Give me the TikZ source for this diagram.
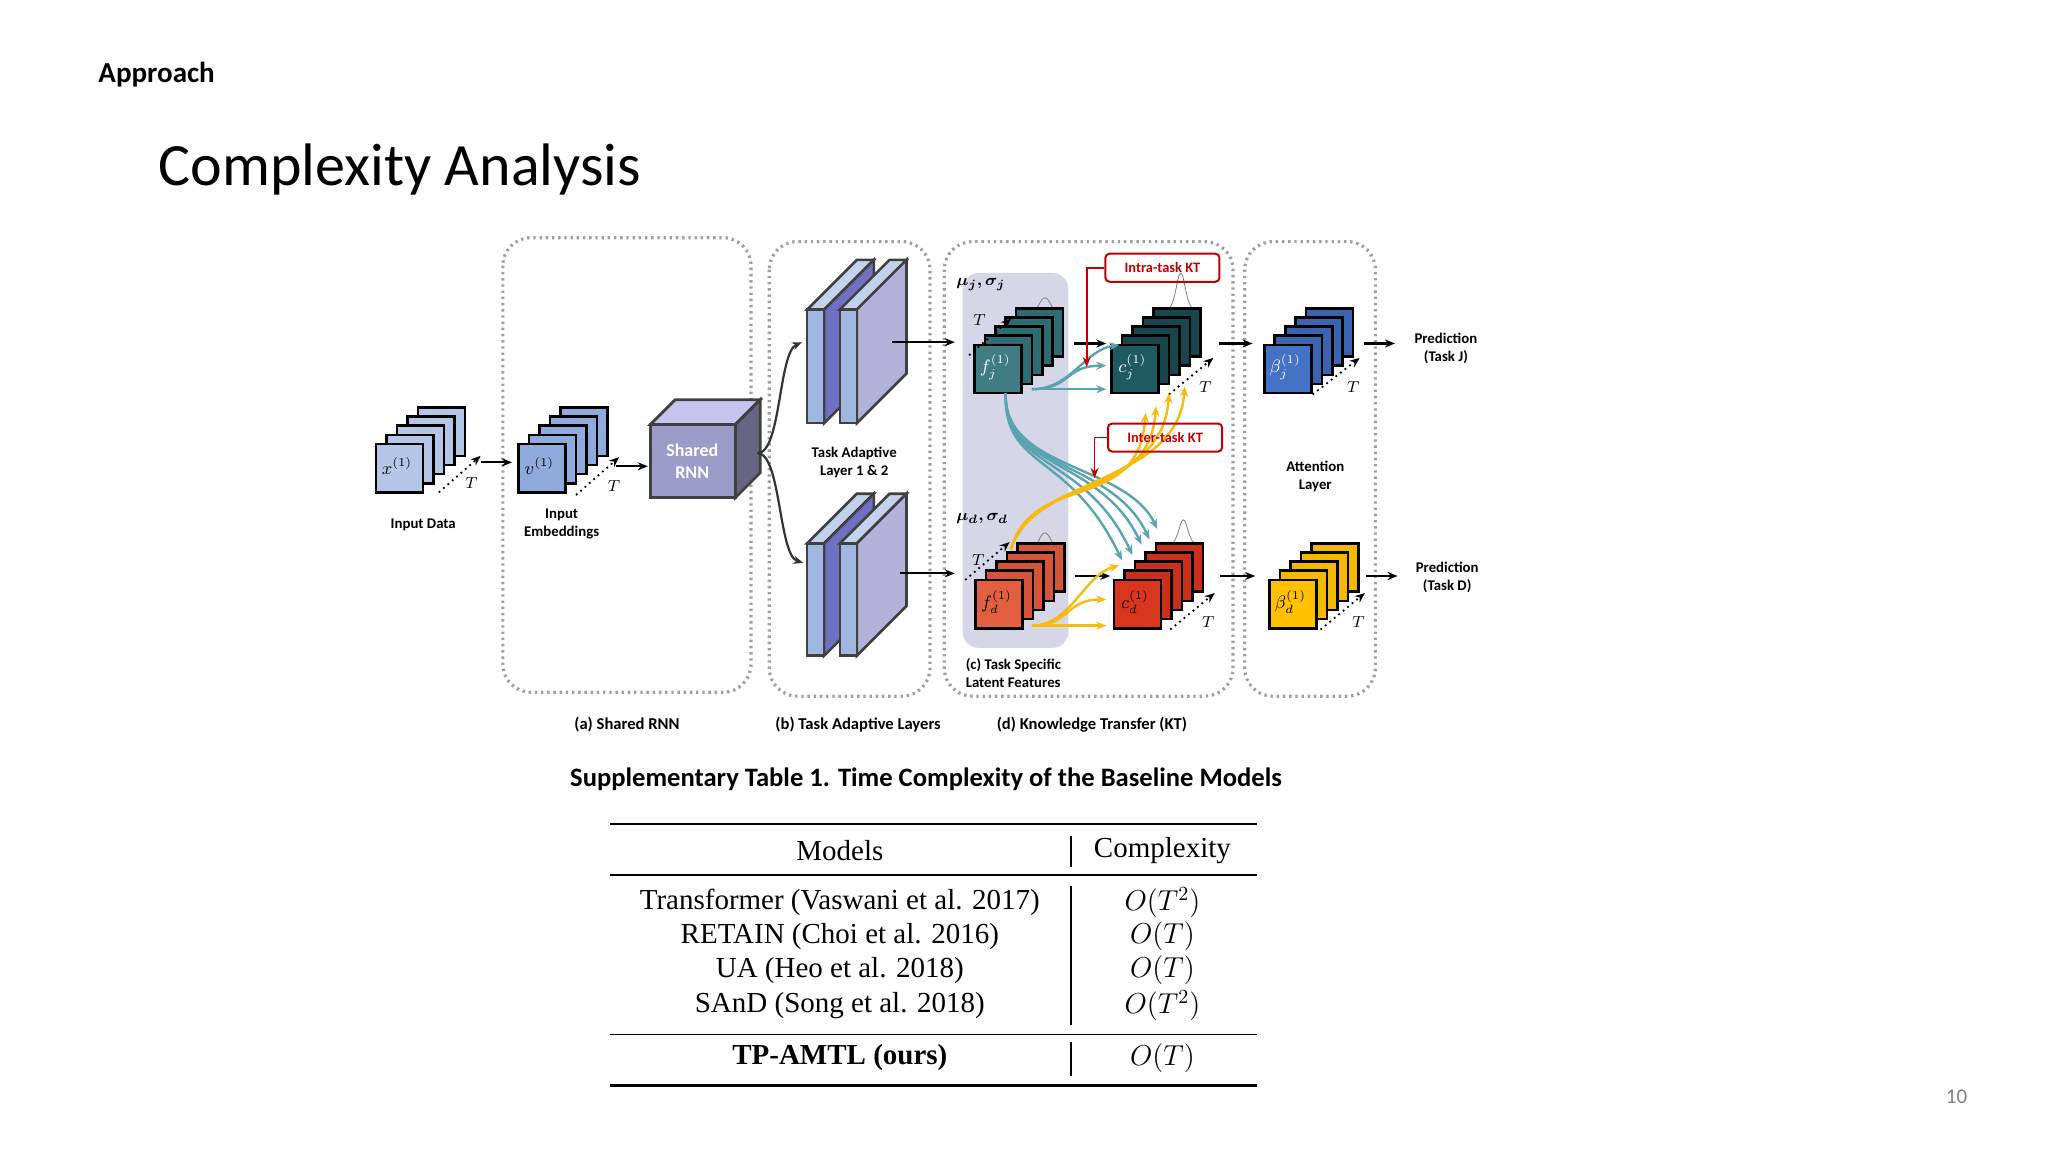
\documentclass[tikz,border=0pt]{standalone}
\usepackage{amsmath,bm}
\usepackage{fontspec}
\setmainfont{Carlito}
\newfontfamily\tabfont{Liberation Serif}
\usetikzlibrary{arrows.meta}
\definecolor{inA}{HTML}{B4C7E7}
\definecolor{inB}{HTML}{8FAADC}
\definecolor{tealA}{HTML}{3F7D83}
\definecolor{tealB}{HTML}{2F6C72}
\definecolor{tealC}{HTML}{1F5A60}
\definecolor{tealD}{HTML}{17474C}
\definecolor{oraA}{HTML}{E2603F}
\definecolor{oraB}{HTML}{D4553A}
\definecolor{redA}{HTML}{D9361E}
\definecolor{redB}{HTML}{C8301C}
\definecolor{bluA}{HTML}{4472C4}
\definecolor{bluB}{HTML}{3A63B0}
\definecolor{yelA}{HTML}{FFC000}
\definecolor{yelB}{HTML}{F5B800}
\definecolor{ktred}{HTML}{C00000}
\definecolor{lteal}{HTML}{5AA3B0}
\definecolor{lyel}{HTML}{F7BB10}
\newcommand\stk[5]{%
  \foreach \i in {4,3,2,1}{\draw[line width=1.3pt,fill=#3] (#1+8*\i,#2-7*\i) rectangle ++(36,37);}
  \draw[line width=1.3pt,fill=#4] (#1,#2) rectangle ++(36,37);
  \node[font=\fontsize{9}{10}\selectfont] at (#1+16,#2+17) {#5};}
\begin{document}
\begin{tikzpicture}[x=0.653pt,y=-0.653pt,
  dotbox/.style={draw=gray!75,line width=1.6pt,dash pattern=on 1.2pt off 1.9pt,rounded corners=14pt},
  lbl/.style={font=\bfseries\fontsize{7.4}{9}\selectfont,align=center},
  sec/.style={font=\bfseries\fontsize{8.3}{10}\selectfont},
  arr/.style={-{Stealth[length=5pt,width=4pt]},line width=1.1pt},
  tarr/.style={-{Stealth[length=5pt,width=4pt]},line width=0.9pt,dotted},
  ktbox/.style={draw=ktred,line width=1pt,rounded corners=2pt,text=ktred,font=\bfseries\fontsize{7.2}{8}\selectfont,minimum width=57pt,minimum height=14pt},
  tl/.style={-{Stealth[length=5pt,width=4pt]},line width=1.2pt,draw=lteal},
  yl/.style={-{Stealth[length=5pt,width=4pt]},line width=1.2pt,draw=lyel},
  bump/.style={draw=gray,line width=0.4pt}]
\useasboundingbox (0,0) rectangle (1568,882);
\node[anchor=west,font=\bfseries\fontsize{14.5}{16}\selectfont] (appr) at (70,57) {Approach};
\node[anchor=west,font=\fontsize{30}{34}\selectfont] (title) at (116,130) {Complexity Analysis};
% dotted boxes
\draw[dotbox] (385,182) rectangle (575,530);
\draw[dotbox] (589,185) rectangle (712,533);
\draw[dotbox] (723,185) rectangle (944,533);
\draw[dotbox] (953,185) rectangle (1053,533);
\node[sec] (la) at (480,555) {(a) Shared RNN};
\node[sec] (lb) at (657,555) {(b) Task Adaptive Layers};
\node[sec] (ld) at (836,555) {(d) Knowledge Transfer (KT)};
% light panel
\fill[blue!30!gray!25,rounded corners=8pt] (737,209) rectangle (818,496);
% input
\stk{288}{340}{inA}{inA}{$x^{(1)}$}
\node[lbl] (indata) at (324,402) {Input Data};
\draw[tarr] (336,377) -- (368,349);
\node[font=\fontsize{8}{9}\selectfont] at (361,370) {$T$};
\coordinate (x1) at (368,354); \coordinate (x2) at (392,354);
\draw[arr] (x1) -- (x2);
\stk{397}{340}{inB}{inB}{$v^{(1)}$}
\node[lbl] (inemb) at (430,401) {Input\\Embeddings};
\draw[tarr] (441,379) -- (474,350);
\node[font=\fontsize{8}{9}\selectfont] at (470,372) {$T$};
\coordinate (v1) at (472,357); \coordinate (v2) at (496,357);
\draw[arr] (v1) -- (v2);
% cube
\draw[line width=1.4pt,fill=gray!45!blue!30!white,draw=black!75] (498,325)--(517,306)--(582,306)--(563,325)--cycle;
\draw[line width=1.4pt,fill=black!45!blue!20!gray,draw=black!75] (563,325)--(582,306)--(582,362)--(563,381)--cycle;
\draw[line width=1.4pt,fill=gray!70!blue!60!white,draw=black!75] (498,325) rectangle (563,381);
\node[font=\bfseries\fontsize{9}{11}\selectfont,text=white,align=center] (rnn) at (530,353) {Shared\\RNN};
\coordinate (br) at (580,347);
\coordinate (bt) at (614,262); \coordinate (bb) at (615,431);
\draw[arr,black!80] (br) .. controls (598,347) and (596,270) .. (bt);
\draw[arr,black!80] (br) .. controls (598,347) and (596,425) .. (bb);
% slabs
\foreach \yy/\yb in {237/324,416/502}{
 \foreach \xx/\sc in {618/{blue!40!gray!80},643/{gray!65!blue!45!white}}{
  \draw[line width=1.3pt,draw=black!75,fill=inA!80!white] (\xx,\yy)--(\xx+38,\yy-38)--(\xx+51,\yy-38)--(\xx+13,\yy)--cycle;
  \draw[line width=1.3pt,draw=black!75,fill=\sc] (\xx+13,\yy)--(\xx+51,\yy-38)--(\xx+51,\yb-38)--(\xx+13,\yb)--cycle;
  \draw[line width=1.3pt,draw=black!75,fill=inB!85!white] (\xx,\yy) rectangle (\xx+13,\yb);
 }}
\node[lbl] (tal) at (654,354) {Task Adaptive\\Layer 1 \& 2};
\coordinate (s1) at (683,262); \coordinate (s2) at (731,262);
\coordinate (s3) at (689,439); \coordinate (s4) at (731,439);
\draw[arr] (s1) -- (s2); \draw[arr] (s3) -- (s4);
% task J
\node[font=\bfseries\fontsize{8.5}{9}\selectfont] (muj) at (751,218) {$\bm{\mu_j,\sigma_j}$};
\draw[bump] (787,240) .. controls (795,240) and (796,228) .. (800,228) .. controls (804,228) and (805,240) .. (813,240);
\stk{746}{264}{tealB}{tealA}{\color{white}$f_j^{(1)}$}
\draw[tarr] (742,272) -- (774,244);
\node[font=\fontsize{8}{9}\selectfont] at (750,245) {$T$};
\draw[bump] (893,237) .. controls (900,237) and (901,209) .. (904,209) .. controls (907,209) and (908,237) .. (915,237);
\stk{851}{264}{tealD}{tealC}{\color{white}$c_j^{(1)}$}
\draw[tarr] (895,302) -- (929,274);
\node[font=\fontsize{8}{9}\selectfont] at (923,296) {$T$};
\coordinate (fj1) at (822,263); \coordinate (cj1) at (847,263);
\draw[arr] (fj1) -- (cj1);
\coordinate (fjo) at (790,298);
\draw[tl] (fjo) -- (847,298);
\draw[tl] (fjo) .. controls (820,298) and (815,280) .. (847,280);
\draw[tl] (fjo) .. controls (820,298) and (830,268) .. (857,264);
\node[ktbox] (intra) at (890,205) {Intra-task KT};
\coordinate (intc) at (832,205); \coordinate (intd) at (832,281);
\draw[-{Stealth[length=5pt,width=4pt]},line width=0.9pt,ktred] (intra.west) -- (intc) -- (intd);
\coordinate (a1) at (933,263); \coordinate (a2) at (959,263);
\draw[arr] (a1) -- (a2);
\stk{968}{264}{bluB}{bluA}{\color{white}$\beta_j^{(1)}$}
\draw[tarr] (1005,302) -- (1041,274);
\node[font=\fontsize{8}{9}\selectfont] at (1036,296) {$T$};
\coordinate (p1) at (1044,263); \coordinate (p2) at (1068,263);
\draw[arr] (p1) -- (p2);
\node[lbl] (predj) at (1107,267) {Prediction\\(Task J)};
% task D
\node[font=\bfseries\fontsize{8.5}{9}\selectfont] (mud) at (752,397) {$\bm{\mu_d,\sigma_d}$};
\draw[bump] (788,420) .. controls (795,420) and (796,408) .. (800,408) .. controls (804,408) and (805,420) .. (813,420);
\stk{747}{444}{oraB}{oraA}{$f_d^{(1)}$}
\draw[tarr] (739,444) -- (773,415);
\node[font=\fontsize{8}{9}\selectfont] at (749,429) {$T$};
\draw[bump] (895,417) .. controls (902,417) and (903,398) .. (906,398) .. controls (909,398) and (910,417) .. (917,417);
\stk{853}{444}{redB}{redA}{$c_d^{(1)}$}
\draw[tarr] (896,482) -- (930,454);
\node[font=\fontsize{8}{9}\selectfont] at (925,476) {$T$};
\coordinate (fd1) at (823,441); \coordinate (cd1) at (850,441);
\draw[arr] (fd1) -- (cd1);
\coordinate (fdo) at (790,479);
\draw[yl] (fdo) -- (847,479);
\draw[yl] (fdo) .. controls (820,479) and (815,459) .. (847,459);
\draw[yl] (fdo) .. controls (820,479) and (830,440) .. (857,433);
% cross arrows
\coordinate (fjb) at (770,301);
\foreach \ex/\ey/\c in {859/429/0,867/425/8,874/417/16,880/413/24,886/405/32}{
  \draw[tl] (fjb) .. controls (768,360) and (\ex-40+\c*0.5,345+\c*0.3) .. (\ex,\ey);}
\coordinate (fdt) at (774,421);
\foreach \ex/\ey/\c in {877/316/0,885/311/8,895/301/16,907/296/24}{
  \draw[yl] (fdt) .. controls (790,360+\c*0.2) and (\ex-5,395-\c) .. (\ex,\ey);}
\node[ktbox] (inter) at (892,335) {Inter-task KT};
\coordinate (inc) at (838,335); \coordinate (ind) at (838,366);
\draw[-{Stealth[length=5pt,width=4pt]},line width=0.9pt,ktred] (inter.west) -- (inc) -- (ind);
\coordinate (a3) at (934,441); \coordinate (a4) at (961,441);
\draw[arr] (a3) -- (a4);
\stk{972}{444}{yelB}{yelA}{$\beta_d^{(1)}$}
\draw[tarr] (1011,482) -- (1045,454);
\node[font=\fontsize{8}{9}\selectfont] at (1040,476) {$T$};
\coordinate (p3) at (1046,441); \coordinate (p4) at (1070,441);
\draw[arr] (p3) -- (p4);
\node[lbl] (predd) at (1108,442) {Prediction\\(Task D)};
\node[lbl] (att) at (1007,365) {Attention\\Layer};
\node[lbl,align=left,anchor=west] (tsl) at (734,515) {(c) Task Specific\\Latent Features};
% table
\node[font=\bfseries\fontsize{13.3}{15}\selectfont] (cap) at (709,597) {Supplementary Table 1. Time Complexity of the Baseline Models};
\draw[line width=1.3pt] (467,631) -- (962,631);
\draw[line width=0.7pt] (467,670) -- (962,670);
\draw[line width=0.7pt] (467,792) -- (962,792);
\draw[line width=1.3pt] (467,831) -- (962,831);
\draw[line width=0.6pt] (820,640) -- (820,664);
\draw[line width=0.6pt] (820,678) -- (820,785);
\draw[line width=0.6pt] (820,798) -- (820,824);
\begin{scope}[every node/.style={font=\tabfont\fontsize{14.5}{16}\selectfont}]
\node (h1) at (643,651) {Models};
\node (h2) at (890,651) {Complexity};
\node (r1) at (643,691) {Transformer (Vaswani et al. 2017)};
\node (r2) at (643,717) {RETAIN (Choi et al. 2016)};
\node (r3) at (643,743) {UA (Heo et al. 2018)};
\node (r4) at (643,770) {SAnD (Song et al. 2018)};
\node (r5) at (643,810) {\bfseries TP-AMTL (ours)};
\node (c1) at (890,691) {$O(T^2)$};
\node (c2) at (890,717) {$O(T)$};
\node (c3) at (890,743) {$O(T)$};
\node (c4) at (890,770) {$O(T^2)$};
\node (c5) at (890,810) {$O(T)$};
\end{scope}
\node[text=gray,font=\fontsize{10.5}{12}\selectfont] (pg) at (1498,840) {10};
\end{tikzpicture}
\end{document}
